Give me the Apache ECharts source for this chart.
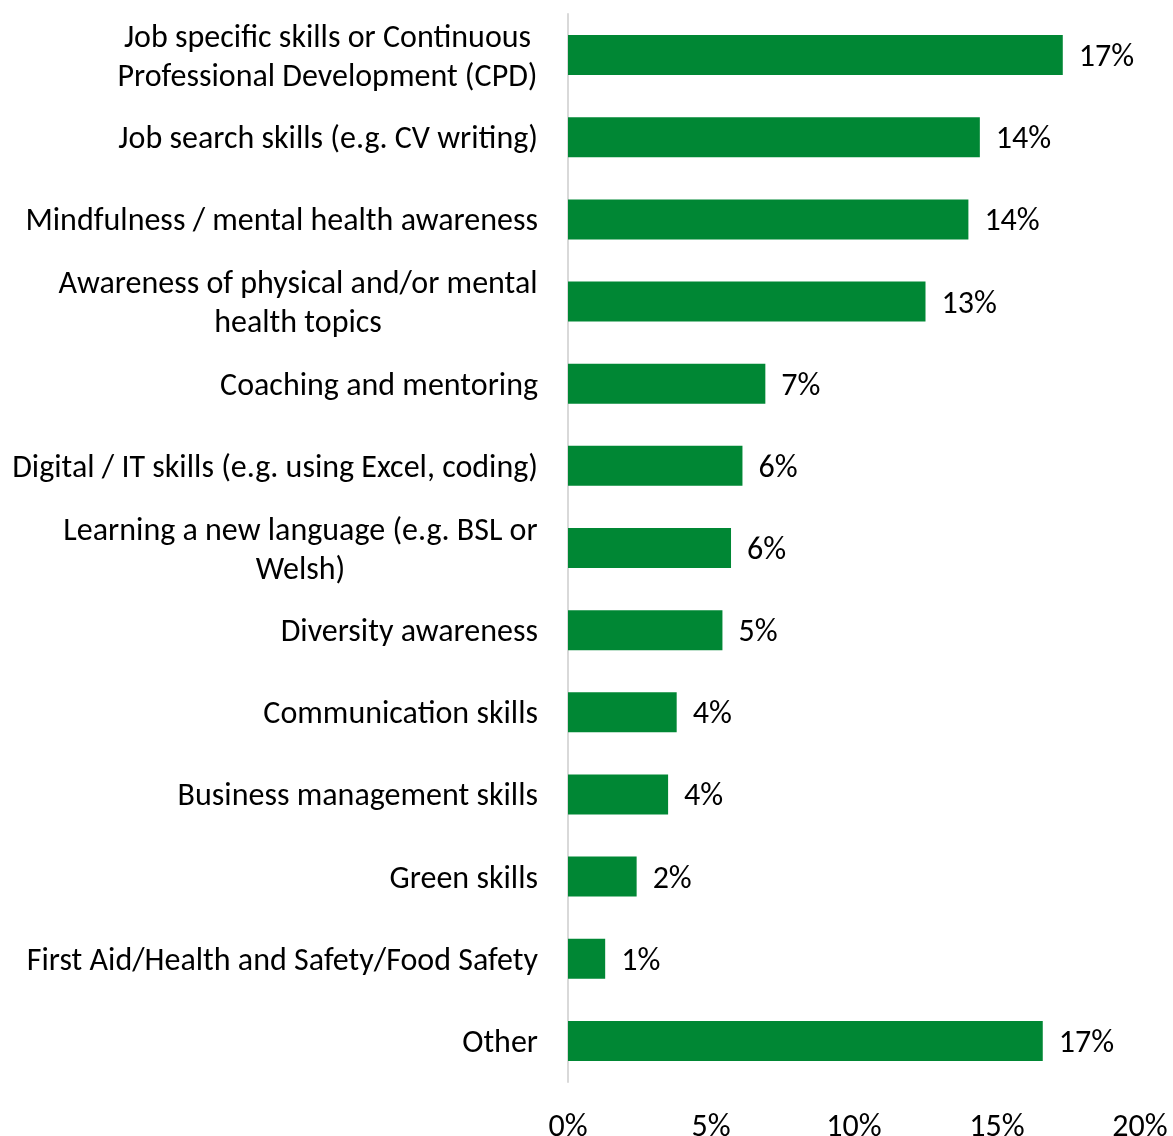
<!DOCTYPE html>
<html>
<head>
<meta charset="utf-8">
<script src="https://cdn.jsdelivr.net/npm/echarts@6/dist/echarts.min.js"></script>
<style>
  html, body { margin: 0; padding: 0; background: #fff; }
  #chart { width: 1173px; height: 1136px; }
</style>
</head>
<body>
<div id="chart"></div>
<script>
  // categories, top to bottom
  var categories = [
    'Job specific skills or Continuous\nProfessional Development (CPD)',
    'Job search skills (e.g. CV writing)',
    'Mindfulness / mental health awareness',
    'Awareness of physical and/or mental\nhealth topics',
    'Coaching and mentoring',
    'Digital / IT skills (e.g. using Excel, coding)',
    'Learning a new language (e.g. BSL or\nWelsh)',
    'Diversity awareness',
    'Communication skills',
    'Business management skills',
    'Green skills',
    'First Aid/Health and Safety/Food Safety',
    'Other'
  ];
  // share of respondents, %
  var values = [17.3, 14.4, 14.0, 12.5, 6.9, 6.1, 5.7, 5.4, 3.8, 3.5, 2.4, 1.3, 16.6];
  var valueLabels = ['17%', '14%', '14%', '13%', '7%', '6%', '6%', '5%', '4%', '4%', '2%', '1%', '17%'];
  var ticks = ['0%', '5%', '10%', '15%', '20%'];

  var fontFam = 'Carlito, Calibri, Lato, sans-serif';
  var fontSize = 32;

  // measure widest line so multi-line labels are centred in their block
  var cv = document.createElement('canvas').getContext('2d');
  cv.font = fontSize + 'px ' + fontFam;
  function lineWidth(s) { return Math.ceil(cv.measureText(s).width); }

  var rich = {};
  var labelText = categories.map(function (c, i) {
    var lines = c.split('\n');
    if (lines.length === 1) return c;
    var w = Math.max.apply(null, lines.map(lineWidth));
    rich['m' + i] = { width: w, align: 'center', fontSize: fontSize, fontFamily: fontFam, color: '#000', lineHeight: 39 };
    return lines.map(function (l) { return '{m' + i + '|' + l + '}'; }).join('\n');
  });

  var myChart = echarts.init(document.getElementById('chart'));
  myChart.setOption({
    animation: false,
    grid: { left: 568, right: 33, top: 14, bottom: 54, outerBoundsMode: 'none' },
    xAxis: {
      type: 'value',
      min: 0,
      max: 20,
      interval: 5,
      axisLine: { show: false },
      axisTick: { show: false },
      splitLine: { show: false },
      axisLabel: {
        margin: 30,
        color: '#000',
        fontSize: fontSize,
        fontFamily: fontFam,
        formatter: function (v) { return ticks[v / 5]; }
      }
    },
    yAxis: {
      type: 'category',
      inverse: true,
      data: categories,
      axisLine: { show: true, lineStyle: { color: '#d9d9d9', width: 2 } },
      axisTick: { show: false },
      axisLabel: {
        margin: 30,
        padding: [6, 0, 0, 0],
        color: '#000',
        fontSize: fontSize,
        fontFamily: fontFam,
        lineHeight: 39,
        rich: rich,
        formatter: function (v, i) { return labelText[i]; }
      }
    },
    series: [{
      type: 'bar',
      data: values,
      barWidth: 40,
      itemStyle: { color: '#008734' },
      label: {
        show: true,
        position: 'right',
        distance: 16,
        offset: [0, 3],
        color: '#000',
        fontSize: fontSize,
        fontFamily: fontFam,
        formatter: function (p) { return valueLabels[p.dataIndex]; }
      }
    }]
  });
</script>
</body>
</html>
